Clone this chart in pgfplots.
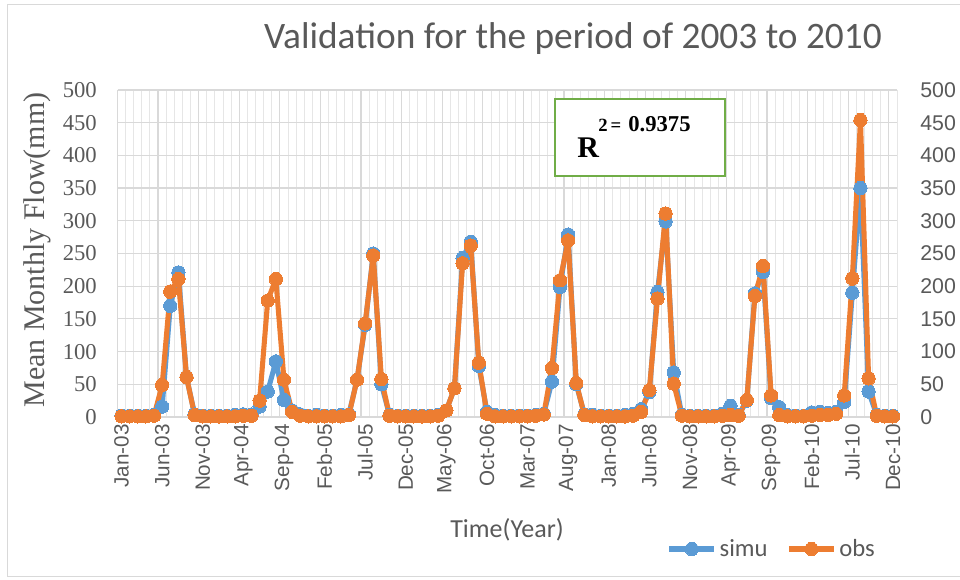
\documentclass[border=0pt]{standalone}
\usepackage{fontspec}
\setmainfont{Liberation Serif}
\newfontfamily\calibri{Carlito}
\newfontfamily\arial{Liberation Sans}
\usepackage{pgfplots}
\pgfplotsset{compat=1.18}
\usepackage{pgfplotstable}

\definecolor{simublue}{HTML}{5B9BD5}
\definecolor{obsorange}{HTML}{ED7D31}
\definecolor{gridgray}{HTML}{D9D9D9}
\definecolor{minorgray}{HTML}{E6E6E6}
\definecolor{boxgreen}{HTML}{70AD47}
\definecolor{txtgray}{HTML}{595959}

\pgfplotstableread{
i simu obs
0 2 1
1 2 1
2 2 1
3 2 1
4 3 2
5 16 49
6 170 192
7 221 211
8 61 61
9 4 3
10 2 1
11 2 1
12 2 1
13 2 1
14 3 1
15 4 2
16 4 2
17 16 25
18 39 178
19 85 211
20 26 57
21 10 8
22 4 2
23 2 1
24 3 1
25 2 1
26 2 1
27 3 1
28 4 3
29 57 57
30 141 143
31 250 247
32 50 58
33 3 2
34 2 1
35 2 1
36 2 1
37 2 1
38 2 1
39 3 2
40 10 10
41 44 44
42 243 235
43 268 262
44 78 83
45 8 5
46 3 1
47 2 1
48 2 1
49 2 1
50 2 1
51 3 2
52 5 4
53 54 75
54 199 209
55 279 270
56 50 52
57 4 3
58 3 1
59 2 1
60 2 1
61 2 1
62 3 1
63 5 2
64 12 8
65 38 41
66 191 181
67 299 311
68 68 51
69 3 2
70 2 1
71 2 1
72 2 1
73 2 1
74 5 2
75 17 3
76 3 2
77 25 26
78 189 185
79 222 231
80 29 33
81 15 3
82 3 1
83 2 1
84 2 1
85 7 2
86 8 3
87 6 3
88 8 5
89 23 33
90 190 212
91 350 454
92 39 59
93 3 2
94 2 1
95 2 1
}\flowdata

\begin{document}
\begin{tikzpicture}
\path[use as bounding box] (0,0) rectangle (720pt,435pt);
\begin{scope}[x=0.75pt,y=-0.75pt,yshift=435pt]
\draw[gridgray, line width=0.75pt] (7,5) rectangle (975,577);
\end{scope}

\begin{axis}[
  at={(88.125pt,122.25pt)}, anchor=south west,
  scale only axis, width=584.625pt, height=245.25pt,
  xmin=-0.5, xmax=95.5, ymin=0, ymax=500,
  axis line style={draw=gridgray, line width=0.75pt},
  axis x line*=bottom, axis y line*=left,
  /pgf/number format/assume math mode=true,
  xtick={0,5,...,95},
  xticklabels={Jan-03,Jun-03,Nov-03,Apr-04,Sep-04,Feb-05,Jul-05,Dec-05,May-06,Oct-06,Mar-07,Aug-07,Jan-08,Jun-08,Nov-08,Apr-09,Sep-09,Feb-10,Jul-10,Dec-10},
  xtick style={draw=none},
  xticklabel style={rotate=90, anchor=east, font=\arial\fontsize{15.5}{15.5}\selectfont, text=txtgray, xshift=-2pt},
  extra x ticks={-0.5,4.5,...,95.5},
  extra x tick labels={},
  extra x tick style={grid=major, major grid style={draw=gridgray, line width=0.9pt}, tick style={draw=gridgray, line width=0.75pt}, major tick length=5pt, tick align=outside},
  minor xtick={-0.5,0.5,...,95.5},
  xminorgrids=true,
  minor grid style={draw=minorgray, line width=0.75pt},
  minor x tick style={draw=none},
  ytick={0,50,...,500},
  ymajorgrids=true,
  major grid style={draw=gridgray, line width=0.9pt},
  ytick style={draw=none},
  yticklabel style={anchor=east, font=\fontsize{17}{17}\selectfont, text=txtgray, xshift=-12pt},
  title={Validation for the period of 2003 to 2010},
  title style={at={(0.5843,1.134)}, anchor=center, yshift=0pt, font=\calibri\fontsize{28}{30}\selectfont, text=txtgray},
  xlabel={Time(Year)},
  xlabel style={at={(0.4997,-0.3456)}, anchor=center, font=\calibri\fontsize{19.5}{20}\selectfont, text=txtgray},
  ylabel={Mean Monthly Flow(mm)},
  ylabel style={at={(-0.1033,0.5107)}, anchor=center, font=\fontsize{22.5}{24}\selectfont, text=txtgray},
  legend style={at={(0.8397,-0.4037)}, anchor=center, draw=none, fill=none, legend columns=2,
    font=\calibri\fontsize{18.5}{18.5}\selectfont, text=txtgray,
    /tikz/every even column/.append style={column sep=12pt}},
  legend image code/.code={\draw[mark repeat=2,mark phase=2,#1] plot coordinates {(0pt,0pt)(17pt,0pt)(34pt,0pt)};},
]
\addplot[simublue, line width=3.8pt, line join=round, mark=*, mark size=5pt, mark options={fill=simublue, draw=simublue, line width=0pt}] table[x=i,y=simu]{\flowdata};
\addlegendentry{simu}
\addplot[obsorange, line width=3.8pt, line join=round, mark=*, mark size=5pt, mark options={fill=obsorange, draw=obsorange, line width=0pt}] table[x=i,y=obs]{\flowdata};
\addlegendentry{obs}
\end{axis}

\begin{axis}[
  at={(88.125pt,122.25pt)}, anchor=south west,
  scale only axis, width=584.625pt, height=245.25pt,
  xmin=-0.5, xmax=95.5, ymin=0, ymax=500,
  hide x axis,
  axis y line*=right,
  axis line style={draw=none},
  /pgf/number format/assume math mode=true,
  ytick={0,50,...,500},
  ytick style={draw=none},
  yticklabel style={anchor=west, font=\arial\fontsize{16}{16}\selectfont, text=txtgray, xshift=14pt},
]
\addplot[draw=none] table[x=i,y=obs]{\flowdata};
\end{axis}

\begin{scope}[x=0.75pt,y=-0.75pt,yshift=435pt]
\draw[boxgreen, line width=1.5pt, fill=white] (555,99) rectangle (725,176);
\node[anchor=base west, inner sep=0pt, font=\bfseries\fontsize{22.5}{22.5}\selectfont] at (577,158) {R};
\node[anchor=base west, inner sep=0pt, font=\bfseries\fontsize{14}{14}\selectfont] at (598,132) {2\,=};
\node[anchor=base west, inner sep=0pt, font=\bfseries\fontsize{17}{17}\selectfont] at (628,132) {0.9375};
\end{scope}
\end{tikzpicture}
\end{document}
